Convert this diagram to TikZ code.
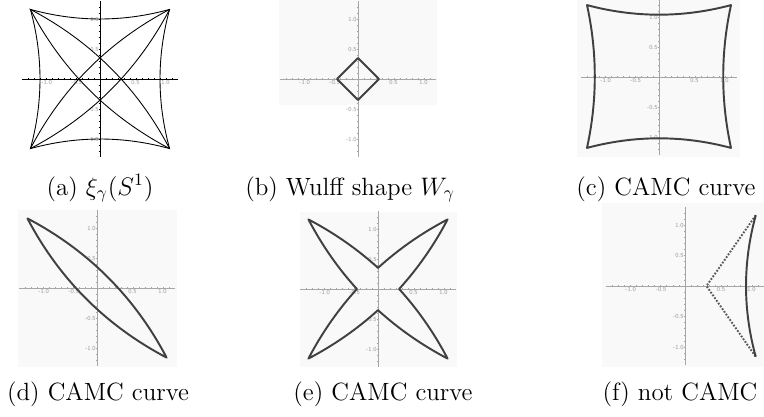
\documentclass[tikz,border=0pt]{standalone}
\usepackage{amsmath, amssymb}
\usepackage{tikz}
\usetikzlibrary{positioning}

\begin{document}
\begin{tikzpicture}[
    x=0.02cm, y=-0.02cm,
    axis/.style={line width=0.35pt},
    tick/.style={line width=0.25pt},
    ticklab/.style={font=\fontsize{3.5}{4}\selectfont\sffamily, text=black!40, inner sep=0.6pt},
    fine/.style={line width=0.5pt, black},
    curve/.style={line width=1.1pt, black!75, line join=round},
    dotcurve/.style={line width=1.1pt, black!65, dash pattern=on 1pt off 0.9pt},
    panelbg/.style={fill=black!2.5, draw=none},
    subcap/.style={anchor=base, inner sep=0pt, font=\fontsize{14.2}{17}\selectfont}
]
\useasboundingbox (0,0) rectangle (764,416);

\fill[panelbg] (279,0) rectangle (437,105);
\fill[panelbg] (577,0) rectangle (740,157);
\fill[panelbg] (18,210) rectangle (177,367);
\fill[panelbg] (300,212) rectangle (457,367);
\fill[panelbg] (602,203) rectangle (764,367);

\foreach \p/\cx/\cy/\s/\col in {a/100/79/60/black, b/358/79/60/black!35, c/659/77/60/black!35,
                                d/97/288/60/black!35, e/378/289/60/black!35, f/685/286/61/black!35} {
  \begin{scope}[shift={(\cx,\cy)}, scale=\s, yscale=-1]
    \draw[axis, draw=\col] (-1.3,0) -- (1.3,0);
    \draw[axis, draw=\col] (0,-1.3) -- (0,1.3);
    \foreach \t in {-12,...,12} {
      \draw[tick, draw=\col] (\t/10,-0.022) -- (\t/10,0.022);
      \draw[tick, draw=\col] (-0.022,\t/10) -- (0.022,\t/10);
    }
    \foreach \v/\lab [count=\i] in {-1/-1.0, -0.5/-0.5, 0.5/0.5, 1/1.0} {
      \node[ticklab, below right] (xl-\p-\i) at (\v,0) {\lab};
      \node[ticklab, left] (yl-\p-\i) at (0,\v) {\lab};
    }
  \end{scope}
}

\begin{scope}[shift={(100,79)}, scale=60, yscale=-1]
  \draw[fine] (-1.16,1.16) .. controls (-0.387,0.947) and (0.387,0.947) .. (1.16,1.16)
    .. controls (0.947,0.387) and (0.947,-0.387) .. (1.16,-1.16)
    .. controls (0.387,-0.947) and (-0.387,-0.947) .. (-1.16,-1.16)
    .. controls (-0.947,-0.387) and (-0.947,0.387) .. cycle;
  \draw[fine] (-1.16,1.16) .. controls (-0.147,0.627) and (0.627,-0.147) .. (1.16,-1.16);
  \draw[fine] (-1.16,1.16) .. controls (-0.627,0.147) and (0.147,-0.627) .. (1.16,-1.16);
  \draw[fine] (1.16,1.16) .. controls (0.147,0.627) and (-0.627,-0.147) .. (-1.16,-1.16);
  \draw[fine] (1.16,1.16) .. controls (0.627,0.147) and (-0.147,-0.627) .. (-1.16,-1.16);
\end{scope}

\begin{scope}[shift={(358,79)}, scale=60, yscale=-1]
  \draw[curve] (0.35,0) -- (0,0.35) -- (-0.35,0) -- (0,-0.35) -- cycle;
\end{scope}

\begin{scope}[shift={(659,76.5)}, scale=60, yscale=-1]
  \draw[curve] (-1.2,1.19) .. controls (-0.4,0.977) and (0.4,0.977) .. (1.2,1.19)
    .. controls (1.027,0.397) and (1.027,-0.397) .. (1.2,-1.19)
    .. controls (0.4,-0.977) and (-0.4,-0.977) .. (-1.2,-1.19)
    .. controls (-1.027,-0.397) and (-1.027,0.397) .. cycle;
\end{scope}

\begin{scope}[shift={(97,288)}, scale=60, yscale=-1]
  \draw[curve] (-1.16,1.16) .. controls (-0.147,0.627) and (0.627,-0.147) .. (1.16,-1.16)
    .. controls (0.147,-0.627) and (-0.627,0.147) .. cycle;
\end{scope}

\begin{scope}[shift={(378,289)}, scale=60, yscale=-1]
  \draw[curve] (-1.16,1.16) .. controls (-0.730,0.934) and (-0.343,0.664) .. (0,0.352)
    .. controls (0.343,0.664) and (0.730,0.934) .. (1.16,1.16)
    .. controls (0.934,0.730) and (0.664,0.343) .. (0.352,0)
    .. controls (0.664,-0.343) and (0.934,-0.730) .. (1.16,-1.16)
    .. controls (0.730,-0.934) and (0.343,-0.664) .. (0,-0.352)
    .. controls (-0.343,-0.664) and (-0.730,-0.934) .. (-1.16,-1.16)
    .. controls (-0.934,-0.730) and (-0.664,-0.343) .. (-0.352,0)
    .. controls (-0.664,0.343) and (-0.934,0.730) .. cycle;
\end{scope}

\begin{scope}[shift={(685,286)}, scale=61, yscale=-1]
  \draw[dotcurve] (1.16,1.16) -- (0.352,0) -- (1.16,-1.16);
  \draw[curve] (1.16,1.16) .. controls (0.947,0.387) and (0.947,-0.387) .. (1.16,-1.16);
\end{scope}

\node[subcap] (cap-a) at (100,195) {(a) $\xi_\gamma(S^1)$};
\node[subcap] (cap-b) at (350,195) {(b) Wulff shape $W_\gamma$};
\node[subcap] (cap-c) at (666,195) {(c) CAMC curve};
\node[subcap] (cap-d) at (98,400) {(d) CAMC curve};
\node[subcap] (cap-e) at (383,400) {(e) CAMC curve};
\node[subcap] (cap-f) at (680,400) {(f) not CAMC};

\end{tikzpicture}
\end{document}
